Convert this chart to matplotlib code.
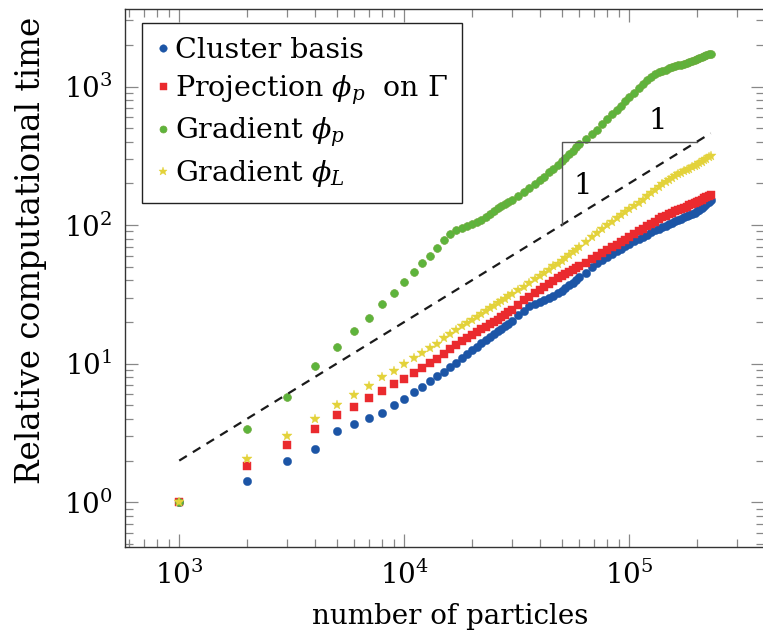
import matplotlib
matplotlib.use("Agg")
import matplotlib.pyplot as plt
import numpy as np

plt.rcParams['font.family'] = ['DejaVu Serif']
plt.rcParams['mathtext.fontset'] = 'dejavuserif'

# number of particles
N = [1000, 2000, 3000, 4000, 5000, 6000, 7000, 8000, 9000, 10000,
     11000, 12000, 13000, 14000, 15000, 16000, 17000, 18000, 19000, 20000,
     21000, 22000, 23000, 24000, 25000, 26000, 27000, 28000, 29000, 30000,
     32000, 34000, 36000, 38000, 40000, 42000, 44000, 46000, 48000, 50000,
     52000, 54000, 56000, 58000, 60000,
     64000, 68000, 72000, 76000, 80000, 84000, 88000, 92000, 96000, 100000,
     105000, 110000, 115000, 120000, 125000, 130000, 135000, 140000, 145000, 150000,
     155000, 160000, 165000, 170000, 175000, 180000, 185000, 190000, 195000, 200000,
     205000, 210000, 215000, 220000, 225000, 230000]

cluster = [1.0, 1.43, 1.99, 2.41, 3.27, 3.67, 4.06, 4.43, 5.01, 5.6,
           6.28, 6.82, 7.46, 8.15, 8.7, 9.4, 10.1, 11.0, 11.8, 12.6,
           13.3, 14.1, 14.9, 15.7, 16.4, 17.1, 17.9, 18.7, 19.5, 20.5,
           22.3, 24.2, 25.9, 27.0, 28.1, 29.0, 30.0, 31.0, 32.2, 33.5,
           35.0, 36.7, 38.5, 40.3, 42.0,
           45.5, 49.5, 53.3, 56.0, 59.0, 61.8, 64.8, 67.8, 70.8, 73.5,
           76.5, 79.5, 82.5, 85.5, 88.5, 91.5, 94.0, 96.5, 99.0, 101.5,
           104.0, 106.5, 109.0, 111.5, 114.0, 116.5, 119.0, 121.0, 123.0, 125.5,
           129.0, 133.0, 137.5, 142.0, 147.0, 151.0]

projection = [1.0, 1.82, 2.59, 3.40, 4.24, 4.89, 5.66, 6.32, 7.13, 7.8,
              8.61, 9.35, 10.2, 10.9, 11.8, 12.7, 13.6, 14.5, 15.4, 16.1,
              16.9, 17.7, 18.5, 19.3, 20.0, 20.8, 21.7, 22.6, 23.6, 24.6,
              26.6, 28.6, 30.5, 32.3, 34.1, 35.9, 37.7, 39.5, 41.3, 43.1,
              44.7, 46.2, 47.7, 49.3, 50.8,
              53.7, 56.6, 59.5, 62.7, 65.9, 69.1, 72.3, 75.5, 78.7, 82.0,
              86.0, 90.0, 94.0, 98.0, 102.0, 106.0, 110.0, 114.0, 117.0, 120.0,
              123.0, 125.5, 128.0, 131.0, 133.5, 136.0, 139.0, 142.0, 145.0, 147.5,
              150.0, 153.0, 156.0, 159.0, 162.0, 165.0]

grad_p = [1.0, 3.38, 5.78, 9.6, 13.3, 17.3, 21.5, 27.1, 32.5, 39.1,
          46.1, 53.6, 60.1, 68.0, 78.0, 86.0, 92.0, 96.0, 99.0, 102.0,
          105.0, 109.0, 115.0, 121.0, 126.0, 132.0, 138.0, 143.0, 148.0, 153.0,
          163.0, 174.0, 185.0, 198.0, 210.0, 222.0, 240.0, 256.0, 272.0, 288.0,
          307.0, 325.0, 345.0, 365.0, 382.0,
          417.0, 453.0, 489.0, 535.0, 581.0, 630.0, 679.0, 729.0, 781.0, 835.0,
          903.0, 974.0, 1047.0, 1120.0, 1170.0, 1225.0, 1263.0, 1293.0, 1322.0, 1352.0,
          1375.0, 1397.0, 1419.0, 1441.0, 1462.0, 1483.0, 1505.0, 1530.0, 1555.0, 1580.0,
          1605.0, 1630.0, 1655.0, 1680.0, 1703.0, 1725.0]

grad_L = [1.0, 2.06, 3.02, 3.97, 5.01, 5.95, 6.9, 7.98, 8.9, 9.95,
          11.0, 11.9, 13.0, 13.9, 15.3, 16.4, 17.5, 18.6, 19.7, 20.8,
          21.9, 23.0, 24.1, 25.2, 26.3, 27.4, 28.4, 29.5, 30.6, 31.6,
          33.8, 35.9, 38.1, 40.6, 42.9, 45.2, 47.5, 50.3, 52.8, 55.2,
          57.9, 60.7, 63.6, 66.5, 69.5,
          75.7, 81.8, 87.8, 93.8, 100.0, 105.9, 112.0, 118.0, 124.5, 131.0,
          138.0, 145.0, 152.5, 161.0, 170.0, 179.0, 188.0, 197.0, 204.0, 211.0,
          217.0, 225.0, 232.0, 238.0, 244.0, 250.0, 256.0, 262.0, 268.0, 273.0,
          280.0, 287.0, 294.0, 301.0, 308.0, 314.0]

# reference line with slope 1 and the slope triangle
ref_N = [1000, 230000]
ref_t = [2.0, 460.0]
tri_N = [50000, 50000, 200000]
tri_t = [100.0, 400.0, 400.0]

fig = plt.figure(figsize=(7.63, 6.38), dpi=100)
ax = fig.add_axes([0.1638, 0.1426, 0.8375, 0.8433])

ax.plot(N, cluster, 'o', color='#1c55a6', ms=6.0, mec='#1c55a6', mew=0.3, label='Cluster basis')
ax.plot(N, projection, 's', color='#ea2a2e', ms=5.6, mec='#ea2a2e', mew=0.3,
        label=r'Projection $\phi_p$  on $\Gamma$')
ax.plot(N, grad_p, 'o', color='#5db43c', ms=5.6, mec='#6fa83a', mew=0.5,
        label=r'Gradient $\phi_p$')
ax.plot(N, grad_L, '*', color='#e3d23a', ms=7.0, mec='#e3d23a', mew=0.3,
        label=r'Gradient $\phi_L$')

ax.plot(ref_N, ref_t, color='#1a1a1a', lw=1.6, dashes=(4, 3.2))
ax.plot(tri_N, tri_t, color='#555555', lw=1.0)
ax.text(62000, 190, '1', fontsize=21, ha='center', va='center')
ax.text(134000, 560, '1', fontsize=21, ha='center', va='center')

ax.set_xscale('log')
ax.set_yscale('log')
ax.set_xlim(574, 397000)
ax.set_ylim(0.476, 3624)

ax.tick_params(which='both', direction='in', top=True, right=True, color='#888888', width=0.9)
ax.tick_params(which='major', length=9.5, labelsize=20)
ax.tick_params(which='minor', length=6)
ax.tick_params(axis='y', which='major', pad=9)
ax.tick_params(axis='x', which='major', pad=10)
for s in ax.spines.values():
    s.set_color('#333333')
    s.set_linewidth(1.0)

ax.set_xlabel('number of particles', fontsize=20)
ax.set_ylabel('Relative computational time', fontsize=23.5)
ax.xaxis.set_label_coords(0.5086, -0.104)
ax.yaxis.set_label_coords(-0.122, 0.552)

leg = ax.legend(loc='upper left', bbox_to_anchor=(0.0266, 0.974), borderaxespad=0,
                fontsize=20.5, fancybox=False, framealpha=1, edgecolor='#222222',
                handlelength=0.45, handletextpad=0.2, labelspacing=0.32,
                borderpad=0.5, markerscale=0.9)
leg.get_frame().set_linewidth(1.0)

fig.savefig('out.png', dpi=100)
